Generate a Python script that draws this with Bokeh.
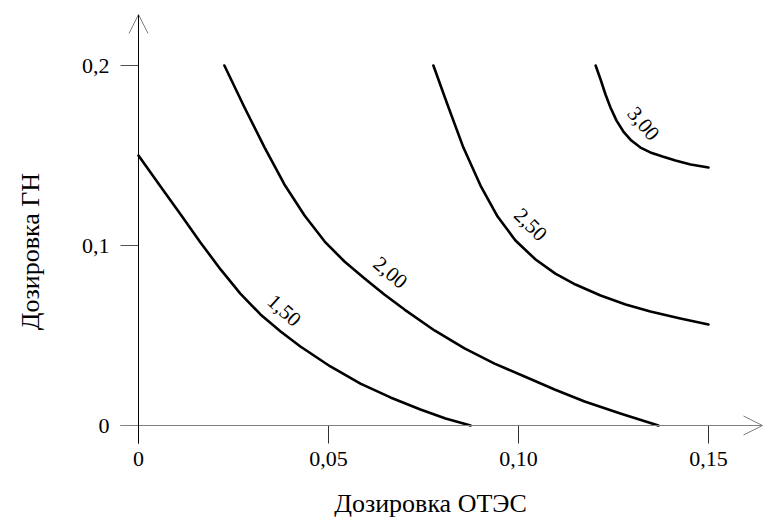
import math
from bokeh.plotting import figure
from bokeh.models import Range1d, FixedTicker, Label, Arrow, OpenHead
from bokeh.embed import file_html
from bokeh.resources import INLINE

FONT = "Liberation Serif"

# ---- data ----
x_ticks = [0, 0.05, 0.10, 0.15]
x_tick_labels = ["0", "0,05", "0,10", "0,15"]
y_ticks = [0, 0.1, 0.2]
y_tick_labels = ["0", "0,1", "0,2"]

c150_x = [0.0, 0.0058, 0.0111, 0.0163, 0.0216, 0.0268, 0.0321, 0.0374, 0.0426, 0.0505, 0.0584, 0.0663, 0.0742, 0.0808, 0.0874]
c150_y = [0.150, 0.1328, 0.1172, 0.1017, 0.0867, 0.0733, 0.0617, 0.0522, 0.0439, 0.0328, 0.0233, 0.0156, 0.0089, 0.0039, 0.0]

c200_x = [0.0226, 0.0279, 0.0332, 0.0384, 0.0437, 0.0490, 0.0542, 0.0595, 0.0647, 0.0700, 0.0779, 0.0858, 0.0937, 0.1016, 0.1095, 0.1174, 0.1268, 0.1368]
c200_y = [0.200, 0.1767, 0.1544, 0.1339, 0.1167, 0.1022, 0.0911, 0.0817, 0.0728, 0.0644, 0.0528, 0.0428, 0.0344, 0.0272, 0.0200, 0.0133, 0.0067, 0.0]

c250_x = [0.0776, 0.0813, 0.0855, 0.0900, 0.0945, 0.0992, 0.1045, 0.1097, 0.1150, 0.1216, 0.1282, 0.1347, 0.1426, 0.1500]
c250_y = [0.200, 0.1783, 0.1544, 0.1333, 0.1161, 0.1028, 0.0922, 0.0844, 0.0783, 0.0722, 0.0672, 0.0633, 0.0594, 0.0561]

c300_x = [0.1203, 0.1216, 0.1229, 0.1242, 0.1258, 0.1276, 0.1297, 0.1321, 0.1347, 0.1379, 0.1413, 0.1453, 0.1500]
c300_y = [0.200, 0.1922, 0.1839, 0.1767, 0.1694, 0.1633, 0.1583, 0.1544, 0.1517, 0.1494, 0.1472, 0.1450, 0.1433]

level_text = ["1,50", "2,00", "2,50", "3,00"]
level_x = [0.0384, 0.0663, 0.1032, 0.1329]
level_y = [0.0640, 0.0850, 0.1117, 0.1678]
level_angle_deg = [-42, -40, -45, -50]

x_title = "Дозировка ОТЭС"
y_title = "Дозировка ГН"

# ---- figure: the frame covers the whole canvas; axes are pinned at 0 ----
W, H = 763, 517
XPX, YPX = 3800.0, 1800.0      # pixels per data unit
X0, Y0 = 138, 425              # pixel position of the origin
p = figure(width=W, height=H, output_backend="svg", toolbar_location=None,
           x_range=Range1d(-X0 / XPX, (W - X0) / XPX),
           y_range=Range1d(-(H - Y0) / YPX, Y0 / YPX),
           min_border=0)
p.outline_line_color = None
p.grid.visible = False
p.background_fill_color = "white"
p.border_fill_color = "white"

for ax, ticks, labels in [(p.xaxis[0], x_ticks, x_tick_labels), (p.yaxis[0], y_ticks, y_tick_labels)]:
    ax.fixed_location = 0
    ax.ticker = FixedTicker(ticks=ticks)
    ax.major_label_overrides = {t: l for t, l in zip(ticks, labels)}
    ax.axis_line_color = None
    ax.major_tick_in = 0
    ax.major_tick_out = 18
    ax.minor_tick_line_color = None
    ax.major_label_text_font = FONT
    ax.major_label_text_font_size = "22px"
    ax.major_label_text_color = "black"
p.xaxis.major_tick_line_color = "#303030"
p.yaxis.major_tick_line_color = "#505050"
p.xaxis.major_label_standoff = 8
p.yaxis.major_label_standoff = 11

# axis lines with open arrow heads
p.add_layout(Arrow(x_start=-18 / XPX, y_start=0, x_end=(W - 1 - X0) / XPX, y_end=0,
                   line_color="#808080", line_width=1,
                   end=OpenHead(size=19, line_color="#808080", line_width=1)))
p.add_layout(Arrow(x_start=0, y_start=-18 / YPX, x_end=0, y_end=(Y0 - 14) / YPX,
                   line_color="black", line_width=1,
                   end=OpenHead(size=19, line_color="#808080", line_width=1)))

for xs, ys in [(c150_x, c150_y), (c200_x, c200_y), (c250_x, c250_y), (c300_x, c300_y)]:
    p.line(xs, ys, line_color="black", line_width=2.6, line_join="round", line_cap="round")

for t, lx, ly, a in zip(level_text, level_x, level_y, level_angle_deg):
    p.add_layout(Label(x=lx, y=ly, text=t, angle=math.radians(a), text_align="center",
                       text_baseline="middle", text_font=FONT, text_font_size="21px",
                       text_color="black"))

p.add_layout(Label(x=(430 - X0) / XPX, y=(Y0 - 503) / YPX, text=x_title, text_align="center",
                   text_baseline="middle", text_font=FONT, text_font_size="26px", text_color="black"))
p.add_layout(Label(x=(30 - X0) / XPX, y=(Y0 - 251) / YPX, text=y_title, angle=math.pi / 2,
                   text_align="center", text_baseline="middle", text_font=FONT,
                   text_font_size="26px", text_color="black"))

open("out.html", "w").write(file_html(p, INLINE))
